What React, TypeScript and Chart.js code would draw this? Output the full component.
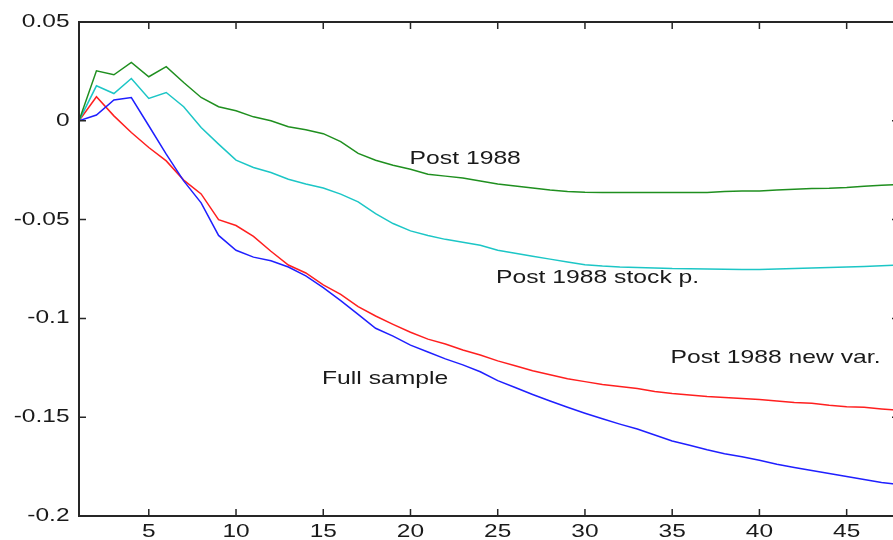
import React, { useEffect, useRef } from "react";
import { Chart, registerables } from "chart.js";

Chart.register(...registerables);

// Horizon (x) values
const horizons = [
  1, 2, 3, 4, 5, 6, 7, 8, 9, 10, 11, 12, 13, 14, 15, 16, 17, 18, 19, 20, 21, 22, 23, 24,
  25, 26, 27, 28, 29, 30, 31, 32, 33, 34, 35, 36, 37, 38, 39, 40, 41, 42, 43, 44, 45, 46, 47, 48,
];

// Series values
const fullSample = [
  0, 0.0029, 0.0105, 0.0118, -0.0025, -0.0169, -0.0304, -0.0415, -0.058, -0.0655, -0.069, -0.0708,
  -0.074, -0.0785, -0.0844, -0.091, -0.098, -0.105, -0.109, -0.1135, -0.117, -0.1205, -0.1235, -0.127,
  -0.1315, -0.135, -0.1385, -0.1418, -0.145, -0.148, -0.1508, -0.1535, -0.156, -0.159, -0.162, -0.1642,
  -0.1665, -0.1685, -0.17, -0.1718, -0.1738, -0.1755, -0.177, -0.1785, -0.18, -0.1815, -0.183, -0.184,
];

const post1988 = [
  0, 0.0253, 0.0233, 0.0295, 0.0223, 0.0274, 0.0194, 0.0118, 0.0071, 0.0051, 0.002, 0.0,
  -0.003, -0.0045, -0.0065, -0.0105, -0.0165, -0.02, -0.0225, -0.0245, -0.027, -0.028, -0.029, -0.0305,
  -0.032, -0.033, -0.034, -0.035, -0.0358, -0.0362, -0.0363, -0.0363, -0.0363, -0.0363, -0.0363, -0.0363,
  -0.0363, -0.0358, -0.0355, -0.0355, -0.035, -0.0346, -0.0343, -0.0341, -0.0337, -0.0331, -0.0326, -0.0322,
];

const post1988Stock = [
  0, 0.0177, 0.0138, 0.0214, 0.0113, 0.0143, 0.0071, -0.0034, -0.0118, -0.0199, -0.0236, -0.0262,
  -0.0296, -0.032, -0.034, -0.0371, -0.041, -0.047, -0.052, -0.0557, -0.058, -0.06, -0.0615, -0.063,
  -0.0655, -0.067, -0.0685, -0.07, -0.0715, -0.0728, -0.0735, -0.074, -0.0743, -0.0745, -0.0748, -0.0749,
  -0.075, -0.0751, -0.0752, -0.0752, -0.075, -0.0748, -0.0745, -0.0743, -0.074, -0.0737, -0.0733, -0.073,
];

const post1988NewVar = [
  0, 0.0122, 0.0025, -0.0059, -0.0135, -0.0203, -0.03, -0.037, -0.05, -0.053, -0.0585, -0.066,
  -0.073, -0.077, -0.083, -0.0878, -0.094, -0.0988, -0.103, -0.107, -0.1105, -0.113, -0.116, -0.1185,
  -0.1215, -0.124, -0.1265, -0.1285, -0.1305, -0.132, -0.1335, -0.1345, -0.1355, -0.137, -0.138, -0.1388,
  -0.1395, -0.14, -0.1405, -0.141, -0.1418, -0.1425, -0.143, -0.144, -0.1447, -0.145, -0.1458, -0.1465,
];

// Axis ticks
const xTicks = [5, 10, 15, 20, 25, 30, 35, 40, 45];
const yTicks = [0.05, 0, -0.05, -0.1, -0.15, -0.2];
const yTickLabels = ["0.05", "0", "-0.05", "-0.1", "-0.15", "-0.2"];

// In-plot text labels (data coordinates)
const labelTexts = ["Post 1988", "Post 1988 stock p.", "Post 1988 new var.", "Full sample"];
const labelX = [19.95, 24.9, 34.9, 14.93];
const labelY = [-0.0192, -0.0796, -0.1197, -0.1303];

const seriesNames = ["Full sample", "Post 1988", "Post 1988 stock p.", "Post 1988 new var."];
const seriesValues = [fullSample, post1988, post1988Stock, post1988NewVar];
const seriesColors = ["#1f1fff", "#1f8f1f", "#1cc6c6", "#ff1f1f"];

function stretchedText(
  ctx: CanvasRenderingContext2D,
  text: string,
  x: number,
  y: number,
  align: CanvasTextAlign,
  sx: number
) {
  ctx.save();
  ctx.translate(x, y);
  ctx.scale(sx, 1);
  ctx.textAlign = align;
  ctx.textBaseline = "middle";
  ctx.fillText(text, 0, 0);
  ctx.restore();
}

const framePlugin = {
  id: "matlabFrame",
  afterDatasetsDraw(chart: any) {
    const { ctx, chartArea: a, scales } = chart;
    const xs = scales.x;
    const ys = scales.y;
    ctx.save();
    ctx.strokeStyle = "#262626";
    ctx.lineWidth = 2;
    ctx.strokeRect(a.left, a.top, a.right - a.left, a.bottom - a.top);
    ctx.lineWidth = 1.5;
    ctx.beginPath();
    xTicks.forEach((v) => {
      const px = xs.getPixelForValue(v);
      ctx.moveTo(px, a.bottom);
      ctx.lineTo(px, a.bottom - 7);
      ctx.moveTo(px, a.top);
      ctx.lineTo(px, a.top + 7);
    });
    yTicks.forEach((v) => {
      const py = ys.getPixelForValue(v);
      ctx.moveTo(a.left, py);
      ctx.lineTo(a.left + 7, py);
      ctx.moveTo(a.right, py);
      ctx.lineTo(a.right - 7, py);
    });
    ctx.stroke();

    ctx.fillStyle = "#1a1a1a";
    ctx.font = '18px "Liberation Sans", Arial, sans-serif';
    yTicks.forEach((v, i) => {
      stretchedText(ctx, yTickLabels[i], a.left - 9.5, ys.getPixelForValue(v), "right", 1.36);
    });
    xTicks.forEach((v) => {
      stretchedText(ctx, String(v), xs.getPixelForValue(v), a.bottom + 16, "center", 1.36);
    });

    ctx.font = '19px "Liberation Sans", Arial, sans-serif';
    labelTexts.forEach((t, i) => {
      stretchedText(ctx, t, xs.getPixelForValue(labelX[i]), ys.getPixelForValue(labelY[i]), "left", 1.3);
    });
    ctx.restore();
  },
};

export default function App() {
  const canvasRef = useRef<HTMLCanvasElement | null>(null);

  useEffect(() => {
    const canvas = canvasRef.current;
    if (!canvas) return;
    const chart = new Chart(canvas, {
      type: "line",
      data: {
        datasets: seriesValues.map((vals, si) => ({
          label: seriesNames[si],
          data: horizons.map((h, i) => ({ x: h, y: vals[i] })),
          borderColor: seriesColors[si],
          borderWidth: 1.5,
          pointRadius: 0,
          fill: false,
          tension: 0,
        })),
      },
      options: {
        responsive: false,
        animation: false,
        events: [],
        layout: { padding: { left: 79, right: 21, top: 22, bottom: 24 } },
        plugins: {
          legend: { display: false },
          tooltip: { enabled: false },
          title: { display: false },
        },
        scales: {
          x: { type: "linear", min: 1, max: 48, display: false },
          y: { type: "linear", min: -0.2, max: 0.05, display: false },
        },
      },
      plugins: [framePlugin],
    });
    return () => chart.destroy();
  }, []);

  return (
    <div
      style={{
        position: "fixed",
        left: 0,
        top: 0,
        width: 893,
        height: 540,
        overflow: "hidden",
        background: "#ffffff",
      }}
    >
      <canvas ref={canvasRef} width={920} height={540} style={{ display: "block" }} />
    </div>
  );
}
